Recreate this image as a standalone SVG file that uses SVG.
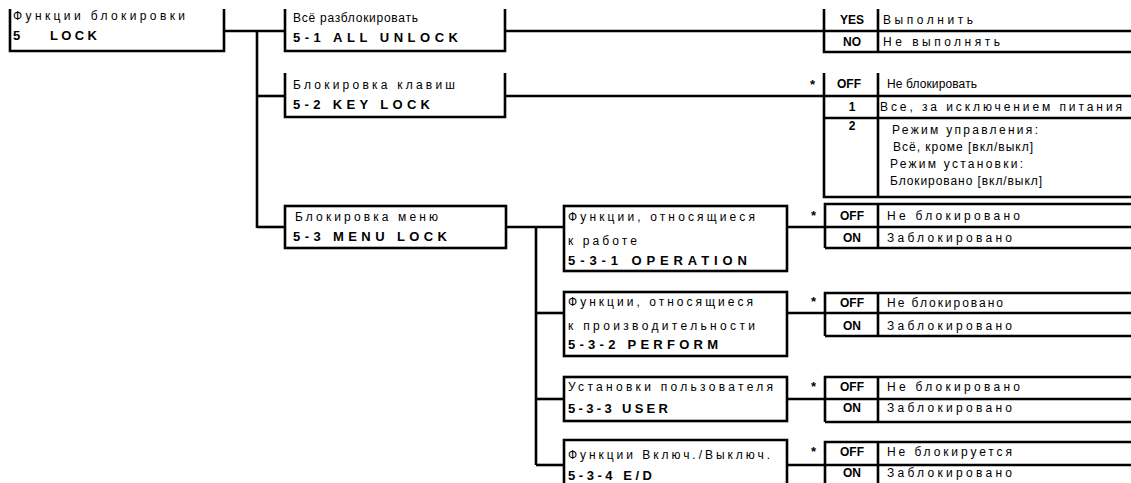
<svg xmlns="http://www.w3.org/2000/svg" width="1131" height="483" viewBox="0 0 1131 483">
<style>
.ln{stroke:#000;stroke-width:2.6;fill:none}
.t{font-family:"Liberation Sans",Arial,sans-serif;font-size:12px;fill:#000}
.c{font-weight:bold;font-size:13px}
.v{font-weight:bold;text-anchor:middle}
</style>
<rect width="1131" height="483" fill="#fff"/>
<g id="connectors" class="ln">
<path d="M224 31H285"/>
<path d="M257 31V228"/>
<path d="M257 96H285"/>
<path d="M257 227H285"/>
<path d="M505 31H1131"/>
<path d="M505 96H1131"/>
<path d="M506 227H564"/>
<path d="M536 227V465"/>
<path d="M536 313H564"/>
<path d="M536 399H564"/>
<path d="M536 465H564"/>
<path d="M787 227H1131"/>
<path d="M787 313H1131"/>
<path d="M787 399H1131"/>
<path d="M787 465H1131"/>
</g>
<g id="root">
<path class="ln" d="M10 9V51H224V9"/>
<text class="t" x="13" y="20" textLength="172">Функции блокировки</text>
<text class="t c" y="40"><tspan x="13">5</tspan><tspan x="50" textLength="47">LOCK</tspan></text>
</g>
<g id="s1">
<path class="ln" d="M285 9V51H505V9"/>
<text class="t" x="293" y="22" textLength="125">Всё разблокировать</text>
<text class="t c" x="293" y="42" textLength="165">5-1 ALL UNLOCK</text>
</g>
<g id="s2">
<path class="ln" d="M285 73V117H505V73"/>
<text class="t" x="293" y="89" textLength="162">Блокировка клавиш</text>
<text class="t c" x="293" y="109" textLength="137">5-2 KEY LOCK</text>
</g>
<g id="s3">
<rect class="ln" x="285" y="206" width="221" height="42"/>
<text class="t" x="295" y="221" textLength="143">Блокировка меню</text>
<text class="t c" x="293" y="241" textLength="154">5-3 MENU LOCK</text>
</g>
<g id="s31">
<rect class="ln" x="564" y="206" width="223" height="65"/>
<text class="t" x="568" y="221" textLength="187">Функции, относящиеся</text>
<text class="t" x="568" y="245" textLength="69">к работе</text>
<text class="t c" x="568" y="265" textLength="179">5-3-1 OPERATION</text>
</g>
<g id="s32">
<rect class="ln" x="564" y="292" width="223" height="64"/>
<text class="t" x="568" y="306" textLength="185">Функции, относящиеся</text>
<text class="t" x="568" y="330" textLength="187">к производительности</text>
<text class="t c" x="568" y="349" textLength="150">5-3-2 PERFORM</text>
</g>
<g id="s33">
<rect class="ln" x="564" y="377" width="223" height="44"/>
<text class="t" x="568" y="391" textLength="205">Установки пользователя</text>
<text class="t c" x="568" y="413" textLength="100">5-3-3 USER</text>
</g>
<g id="s34">
<path class="ln" d="M564 483V440H787V483"/>
<text class="t" x="568" y="459" textLength="202">Функции Включ./Выключ.</text>
<text class="t c" x="568" y="480" textLength="84">5-3-4 E/D</text>
</g>
<g id="opt-s1">
<path class="ln" d="M824 9V52H1131M878 9V52"/>
<text class="t v" x="852" y="24">YES</text>
<text class="t" x="883" y="24" textLength="90">Выполнить</text>
<text class="t v" x="852" y="46">NO</text>
<text class="t" x="883" y="46" textLength="117">Не выполнять</text>
</g>
<g id="opt-s2">
<path class="ln" d="M824 73V197H1131M878 73V197M824 118H1131"/>
<text class="t c" x="810" y="89">*</text>
<text class="t v" x="849" y="88">OFF</text>
<text class="t" x="887" y="88" textLength="90">Не блокировать</text>
<text class="t v" x="852" y="111">1</text>
<text class="t" x="880" y="111" textLength="242">Все, за исключением питания</text>
<text class="t v" x="852" y="130">2</text>
<text class="t" x="892" y="134" textLength="146">Режим управления:</text>
<text class="t" x="893" y="151" textLength="140">Всё, кроме [вкл/выкл]</text>
<text class="t" x="890" y="168" textLength="133">Режим установки:</text>
<text class="t" x="890" y="185" textLength="152">Блокировано [вкл/выкл]</text>
</g>
<g id="opt-s31">
<path class="ln" d="M825 248V204H1131M825 248H1131M878 204V248"/>
<text class="t c" x="811" y="220">*</text>
<text class="t v" x="852" y="220">OFF</text>
<text class="t" x="887" y="220" textLength="133">Не блокировано</text>
<text class="t v" x="852" y="242">ON</text>
<text class="t" x="887" y="242" textLength="125">Заблокировано</text>
</g>
<g id="opt-s32">
<path class="ln" d="M825 336V293H1131M825 336H1131M878 293V336"/>
<text class="t c" x="811" y="306">*</text>
<text class="t v" x="852" y="307">OFF</text>
<text class="t" x="887" y="307" textLength="116">Не блокировано</text>
<text class="t v" x="852" y="330">ON</text>
<text class="t" x="887" y="330" textLength="125">Заблокировано</text>
</g>
<g id="opt-s33">
<path class="ln" d="M825 422V377H1131M825 422H1131M878 377V422"/>
<text class="t c" x="811" y="391">*</text>
<text class="t v" x="852" y="391">OFF</text>
<text class="t" x="887" y="391" textLength="133">Не блокировано</text>
<text class="t v" x="852" y="412">ON</text>
<text class="t" x="887" y="412" textLength="125">Заблокировано</text>
</g>
<g id="opt-s34">
<path class="ln" d="M825 483V442H1131M878 442V483"/>
<text class="t c" x="811" y="456">*</text>
<text class="t v" x="852" y="456">OFF</text>
<text class="t" x="887" y="456" textLength="125">Не блокируется</text>
<text class="t v" x="852" y="477">ON</text>
<text class="t" x="887" y="477" textLength="125">Заблокировано</text>
</g>
</svg>
